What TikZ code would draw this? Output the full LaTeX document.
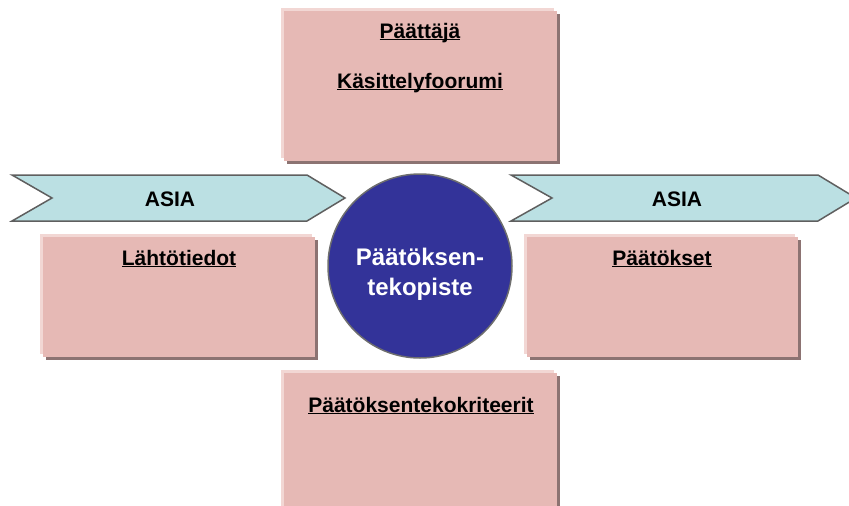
\documentclass[tikz,border=0pt]{standalone}
\usepackage{fontspec}
\setmainfont{Liberation Sans}
\usetikzlibrary{shadows}
\definecolor{boxfill}{HTML}{E6B9B5}
\definecolor{boxshadow}{HTML}{8C7372}
\definecolor{boxhl}{HTML}{F2D7D4}
\definecolor{arrowfill}{HTML}{BBE0E3}
\definecolor{arrowline}{HTML}{5F5F5F}
\definecolor{circfill}{HTML}{333399}
\definecolor{circline}{HTML}{6E6E6E}
\newcommand\ulx[1]{\setbox0\hbox{#1}\rlap{\rule[-2.4pt]{\wd0}{1.4pt}}\box0}
\tikzset{
  pinkbox/.style={rectangle, fill=boxfill, inner sep=0pt,
    general shadow={fill=boxshadow, shadow xshift=3pt, shadow yshift=-3pt},
    general shadow={fill=boxhl, shadow xshift=-3pt, shadow yshift=3pt}},
  boxtext/.style={anchor=base, inner sep=0pt, font=\fontsize{21}{24}\selectfont\bfseries},
  asiaarrow/.style={fill=arrowfill, draw=arrowline, line width=1.5pt, line join=miter},
  hub/.style={circle, fill=circfill, draw=circline, line width=1.5pt, inner sep=0pt,
    minimum size=184pt},
  hubtext/.style={text=white, align=center, inner sep=0pt, font=\fontsize{24}{30}\selectfont\bfseries}
}
\begin{document}
\begin{tikzpicture}[x=1pt,y=-1pt]
\useasboundingbox (0,0) rectangle (849,506);
\clip (0,0) rectangle (849,506);
% arrows
\draw[asiaarrow] (12,175) -- (307,175) -- (345,198) -- (307,221) -- (12,221) -- (52,198) -- cycle;
\node[boxtext] (asiaL) at (170,206) {ASIA};
\draw[asiaarrow] (511,175) -- (818,175) -- (856,198) -- (818,221) -- (511,221) -- (552,198) -- cycle;
\node[boxtext] (asiaR) at (677,206) {ASIA};
% boxes
\node[pinkbox, minimum width=273pt, minimum height=150pt] (top) at (420.5,86) {};
\node[boxtext] (paattaja) at (420,38) {\ulx{Päättäjä}};
\node[boxtext] (forum) at (420,88) {\ulx{Käsittelyfoorumi}};
\node[pinkbox, minimum width=272pt, minimum height=120pt] (left) at (179,297) {};
\node[boxtext] (lahto) at (179,265) {\ulx{Lähtötiedot}};
\node[pinkbox, minimum width=271pt, minimum height=120pt] (right) at (662.5,297) {};
\node[boxtext] (paatokset) at (662,265) {\ulx{Päätökset}};
\node[pinkbox, minimum width=273pt, minimum height=150pt] (bottom) at (420.5,448) {};
\node[boxtext] (kriteerit) at (421,412) {\ulx{Päätöksentekokriteerit}};
% hub
\node[hub] (hubc) at (420,266) {};
\node[hubtext] (hubt) at (420,274) {Päätöksen-\\tekopiste};
\end{tikzpicture}
\end{document}
